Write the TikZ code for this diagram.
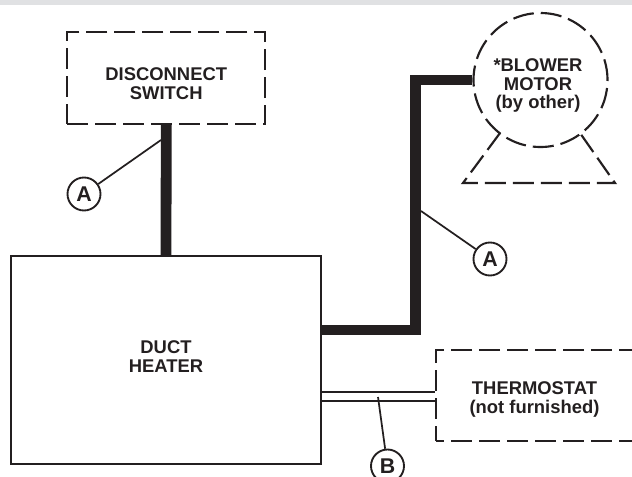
\documentclass[tikz,border=0pt]{standalone}
\usepackage{fontspec}
\setmainfont{Liberation Sans}
\definecolor{ink}{HTML}{231F20}
\definecolor{band}{HTML}{E0E1E3}
\tikzset{
  dashline/.style={draw=ink,line width=1.6pt,dash pattern=on 15.75pt off 5.25pt},
  solidbox/.style={draw=ink,line width=1.4pt,rectangle,inner sep=0pt},
  dashbox/.style={dashline,rectangle,inner sep=0pt},
  boxlabel/.style={font=\fontsize{13.8pt}{14.2pt}\selectfont\bfseries,text=ink,align=center,inner sep=0pt},
  callout/.style={draw=ink,line width=1.4pt,circle,minimum size=24.75pt,inner sep=0pt,font=\fontsize{16pt}{16pt}\selectfont\bfseries,text=ink},
  heavy/.style={draw=ink,line width=8.1pt},
  thinwire/.style={draw=ink,line width=1.3pt},
  leader/.style={draw=ink,line width=1.3pt},
}
\begin{document}
\begin{tikzpicture}[x=0.75pt,y=-0.75pt]
\useasboundingbox (0,0) rectangle (632,476);
\clip (0,0) rectangle (632,476);
\fill[band] (0,0) rectangle (632,4.5);
% boxes
\node[dashbox,minimum width=148.5pt,minimum height=69pt] (dis) at (166.25,78) {};
\node[boxlabel] (distext) at (166.25,83.5) {DISCONNECT\\SWITCH};
\node[solidbox,minimum width=232.5pt,minimum height=156pt] (heater) at (166,360) {};
\node[boxlabel] (heatertext) at (166,356.5) {DUCT\\HEATER};
\node[dashbox,dash phase=9.75pt,minimum width=153pt,minimum height=68.25pt] (thermo) at (538,395.5) {};
\node[boxlabel] (thermotext) at (534.5,399.5) {THERMOSTAT\\(not furnished)};
% motor
\node[dashline,circle,minimum size=100.5pt,inner sep=0pt] (motor) at (540.5,80) {};
\node[boxlabel] (motortext) at (538,85.5) {*BLOWER\\MOTOR\\(by other)};
\coordinate (bl) at (500,133);
\coordinate (bla) at (463,183);
\coordinate (bra) at (615,183);
\coordinate (br) at (580,133);
\draw[dashline,line join=miter] (bl) -- (bla) -- (bra) -- (br);
% heavy wires
\draw[heavy] (dis.south) -- (heater.north);
\coordinate (hy) at (0,330);
\coordinate (corner) at (415.4,330);
\draw[heavy,line join=miter] (heater.east |- hy) -- (corner) -- (corner |- motor.west) -- (motor.west);
% thermostat wires
\coordinate (w1) at (0,392);
\coordinate (w2) at (0,401);
\draw[thinwire] (heater.east |- w1) -- (thermo.west |- w1);
\draw[thinwire] (heater.east |- w2) -- (thermo.west |- w2);
% callouts
\node[callout] (a1) at (84,194) {A};
\node[callout] (a2) at (490,259) {A};
\node[callout] (b) at (387.5,466) {B};
\coordinate (t1) at (161,140);
\coordinate (t2) at (421,211);
\coordinate (t3) at (378,397);
\draw[leader] (a1) -- (t1);
\draw[leader] (a2) -- (t2);
\draw[leader] (b) -- (t3);
\end{tikzpicture}
\end{document}
